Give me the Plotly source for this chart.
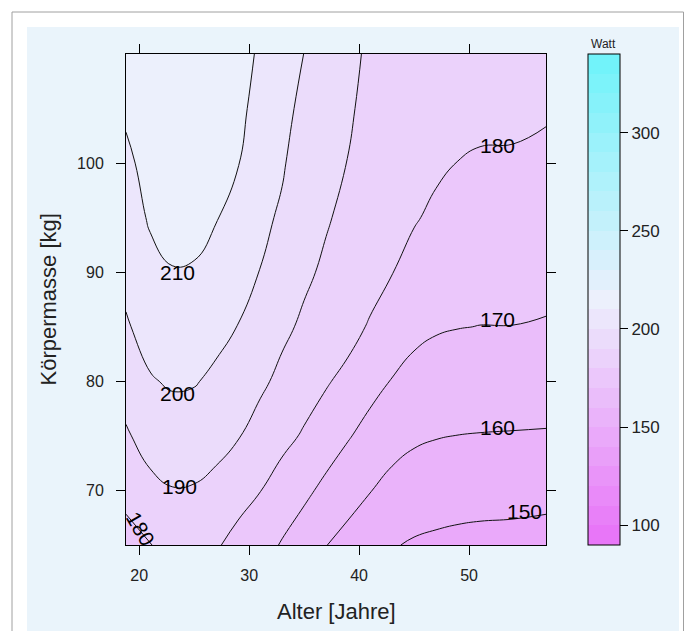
import plotly.graph_objects as go

# ---- data ----
AGE = [18.8, 21, 23, 25, 27, 29, 31, 33, 35, 37, 39, 41, 43, 45, 47, 49, 51, 54, 57]
MASS = [65, 70, 75, 80, 85, 90, 95, 100, 105, 110]
WATT = [
    [176.5, 179.7, 183.3, 183.0, 181.0, 176.8, 174.1, 169.2, 164.9, 160.2, 156.8, 153.7, 150.6, 149.1, 148.3, 147.7, 147.3, 147.1, 146.4],
    [182.7, 187.5, 189.6, 189.3, 187.4, 183.8, 180.2, 176.2, 172.0, 167.7, 163.8, 160.3, 157.2, 155.3, 154.4, 153.8, 153.5, 153.2, 152.8],
    [188.9, 193.8, 195.5, 195.1, 193.1, 190.5, 186.4, 182.4, 179.1, 174.8, 170.7, 166.8, 163.5, 161.4, 160.4, 159.9, 159.7, 159.5, 159.3],
    [194.1, 199.3, 201.0, 200.6, 198.2, 195.1, 191.7, 187.8, 183.8, 180.9, 177.2, 173.1, 169.6, 167.1, 165.8, 165.2, 164.8, 164.7, 164.4],
    [199.1, 203.4, 205.4, 204.9, 202.6, 199.8, 195.7, 191.9, 188.5, 184.4, 183.5, 179.0, 175.1, 172.3, 170.8, 170.2, 169.9, 169.9, 169.4],
    [202.4, 207.3, 209.7, 209.4, 206.5, 203.4, 199.8, 195.1, 191.6, 188.5, 185.8, 184.0, 180.2, 177.4, 174.5, 173.5, 173.1, 173.1, 172.5],
    [205.4, 211.0, 212.2, 212.2, 210.4, 206.9, 202.0, 198.8, 193.4, 190.8, 187.8, 185.5, 181.7, 180.6, 178.6, 176.7, 176.3, 176.2, 175.5],
    [208.3, 212.8, 214.3, 214.2, 212.9, 210.3, 204.2, 200.9, 195.6, 192.5, 189.8, 186.8, 183.3, 182.3, 181.2, 179.9, 179.4, 179.3, 178.4],
    [211.3, 214.4, 215.8, 215.6, 214.6, 212.6, 206.3, 202.6, 197.8, 194.3, 191.0, 187.8, 184.9, 183.5, 182.4, 181.8, 181.4, 181.3, 180.8],
    [214.3, 215.8, 216.8, 216.5, 215.6, 214.2, 208.5, 204.3, 199.9, 196.0, 192.0, 188.7, 186.5, 185.0, 184.0, 183.5, 183.2, 183.0, 182.5],
]
LEVEL_START, LEVEL_END, LEVEL_STEP = 90, 340, 10
X_TICKS = [20, 30, 40, 50]
Y_TICKS = [70, 80, 90, 100]
CB_TICKS = [100, 150, 200, 250, 300]
X_TITLE = "Alter [Jahre]"
Y_TITLE = "Körpermasse [kg]"
CB_TITLE = "Watt"
# contour labels as placed in the reference: (text, age, mass, angle)
LABEL_TEXT = ["210", "200", "190", "180", "180", "170", "160", "150"]
LABEL_AGE = [23.45, 23.5, 23.7, 20.1, 52.55, 52.55, 52.55, 55.0]
LABEL_MASS = [89.95, 78.9, 70.4, 66.5, 101.65, 85.7, 75.8, 68.05]
LABEL_ANGLE = [0, 0, 0, 60, 0, 0, 0, 0]

# ---- geometry (screen pixels; the page body adds an 8px offset) ----
OFF = 8
W, H = 696 - OFF, 631 - OFF
ML, MT = 126 - OFF, 54 - OFF
PW, PH = 420, 491
MR, MB = W - ML - PW, H - MT - PH


def px(xs):
    return (xs - OFF - ML) / PW


def py(ys):
    return (MT + PH - (ys - OFF)) / PH


# ---- stepped colour scale (cm.colors-like, magenta -> white -> cyan) ----
nb = int((LEVEL_END - LEVEL_START) / LEVEL_STEP)
low, mid, high = (232, 118, 248), (236, 240, 252), (114, 243, 250)
half = (nb - 1) / 2
cols = []
for i in range(nb):
    if i <= half:
        t = i / half
        c = [low[k] + (mid[k] - low[k]) * t for k in range(3)]
    else:
        t = (i - half) / half
        c = [mid[k] + (high[k] - mid[k]) * t for k in range(3)]
    cols.append("rgb(%d,%d,%d)" % tuple(round(v) for v in c))
cscale = []
for i, c in enumerate(cols):
    cscale.append([i / nb, c])
    cscale.append([(i + 1) / nb, c])

FONT = "Liberation Sans, Arial, sans-serif"
TXT = "#222"

fig = go.Figure()
fig.add_trace(go.Contour(
    x=AGE, y=MASS, z=WATT,
    zmin=LEVEL_START, zmax=LEVEL_END,
    colorscale=cscale,
    autocontour=False,
    contours=dict(start=LEVEL_START, end=LEVEL_END, size=LEVEL_STEP,
                  coloring="fill", showlabels=False),
    line=dict(color="#111", width=1, smoothing=1.3),
    showscale=False, hoverinfo="skip",
))
fig.add_trace(go.Scatter(
    x=[None], y=[None], mode="markers", showlegend=False, hoverinfo="skip",
    marker=dict(color=[LEVEL_START], colorscale=cscale, cmin=LEVEL_START, cmax=LEVEL_END,
                showscale=True,
                colorbar=dict(x=px(588), xanchor="left", xpad=0,
                              y=0, yanchor="bottom", ypad=0,
                              len=1, lenmode="fraction",
                              thickness=32, thicknessmode="pixels",
                              outlinecolor="black", outlinewidth=1,
                              ticks="outside", ticklen=8, tickcolor="black", tickwidth=1,
                              tickvals=CB_TICKS, tickprefix="\u00a0\u00a0",
                              tickfont=dict(size=17, color=TXT, family=FONT),
                              bgcolor="rgba(0,0,0,0)", borderwidth=0)),
))

axis_common = dict(ticks="outside", ticklen=9, tickwidth=1, tickcolor="black",
                   showline=True, linecolor="black", linewidth=1, mirror="ticks",
                   showgrid=False, zeroline=False,
                   tickfont=dict(size=16, color=TXT, family=FONT))
fig.update_xaxes(range=[AGE[0], AGE[-1]], tickvals=X_TICKS, ticklabelstandoff=7, **axis_common)
fig.update_yaxes(range=[MASS[0], MASS[-1]], tickvals=Y_TICKS, ticklabelstandoff=9, **axis_common)

annotations = [
    dict(text=X_TITLE, xref="paper", yref="paper", x=0.5, y=py(611),
         xanchor="center", yanchor="middle", showarrow=False,
         font=dict(size=22, color=TXT, family=FONT)),
    dict(text=Y_TITLE, xref="paper", yref="paper", x=px(48), y=0.5,
         xanchor="center", yanchor="middle", textangle=-90, showarrow=False,
         font=dict(size=22, color=TXT, family=FONT)),
    dict(text=CB_TITLE, xref="paper", yref="paper", x=px(603), y=py(44),
         xanchor="center", yanchor="middle", showarrow=False,
         font=dict(size=12, color=TXT, family=FONT)),
]
for t, a, m, ang in zip(LABEL_TEXT, LABEL_AGE, LABEL_MASS, LABEL_ANGLE):
    annotations.append(dict(text=t, x=a, y=m, xref="x", yref="y",
                            xanchor="center", yanchor="middle", textangle=ang,
                            showarrow=False,
                            font=dict(size=21, color="black", family=FONT)))

fig.update_layout(
    width=W, height=H,
    margin=dict(l=ML, r=MR, t=MT, b=MB, pad=0),
    paper_bgcolor="white", plot_bgcolor="#eaf4fb",
    font=dict(family=FONT, color=TXT),
    showlegend=False,
    shapes=[
        dict(type="rect", xref="paper", yref="paper", layer="below",
             x0=px(27), x1=px(679), y0=py(660), y1=py(27),
             fillcolor="#eaf4fb", line=dict(width=0)),
        dict(type="rect", xref="paper", yref="paper", layer="below",
             x0=px(12), x1=px(683.5), y0=py(660), y1=py(12),
             fillcolor="rgba(0,0,0,0)", line=dict(color="#a0a0a0", width=1)),
    ],
    annotations=annotations,
)

fig.write_html("out.html")
